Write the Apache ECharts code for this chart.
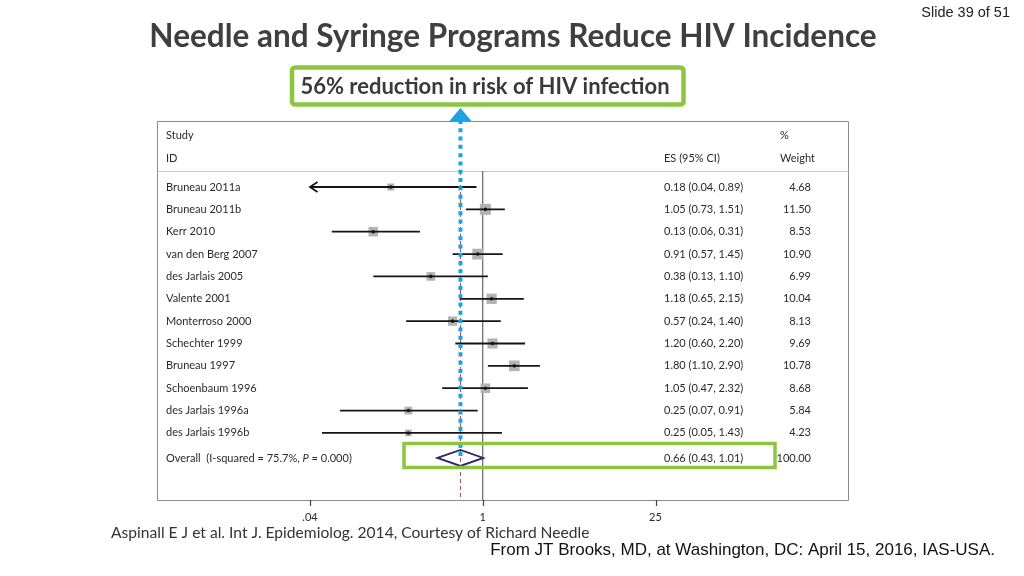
<!DOCTYPE html>
<html><head><meta charset="utf-8">
<script src="https://cdn.jsdelivr.net/npm/echarts@6/dist/echarts.min.js"></script>
<style>html,body{margin:0;padding:0;background:#fff}#c{width:1024px;height:576px}</style>
</head><body><div id="c"></div>
<script>
// ---- data ----
const studies = ['Bruneau 2011a','Bruneau 2011b','Kerr 2010','van den Berg 2007','des Jarlais 2005','Valente 2001','Monterroso 2000','Schechter 1999','Bruneau 1997','Schoenbaum 1996','des Jarlais 1996a','des Jarlais 1996b'];
const es = [0.18,1.05,0.13,0.91,0.38,1.18,0.57,1.20,1.80,1.05,0.25,0.25];
const ciLow = [0.04,0.73,0.06,0.57,0.13,0.65,0.24,0.60,1.10,0.47,0.07,0.05];
const ciHigh = [0.89,1.51,0.31,1.45,1.10,2.15,1.40,2.20,2.90,2.32,0.91,1.43];
const weights = [4.68,11.50,8.53,10.90,6.99,10.04,8.13,9.69,10.78,8.68,5.84,4.23];
const overallName = 'Overall';
const overallStat = '(I-squared = 75.7%, P = 0.000)';
const overallES = 0.66, overallLow = 0.43, overallHigh = 1.01, overallWeight = 100.00;
const xTickValues = [0.04, 1, 25];
const xTickLabels = ['.04', '1', '25'];

// ---- layout helpers ----
const fmt2 = v => v.toFixed(2);
const rows = studies.map((_, i) => i);
const overallRow = studies.length + 0.12;
const allRows = rows.concat([overallRow]);
const esText = es.map((v, i) => `${fmt2(v)} (${fmt2(ciLow[i])}, ${fmt2(ciHigh[i])})`)
  .concat([`${fmt2(overallES)} (${fmt2(overallLow)}, ${fmt2(overallHigh)})`]);
const wText = weights.map(fmt2).concat([fmt2(overallWeight)]);
const rowIndex = v => allRows.findIndex(r => Math.abs(r - v) < 1e-6);
const X_MIN = xTickValues[0], X_MAX = xTickValues[xTickValues.length - 1];
const FONT = 'Lato, "Open Sans", sans-serif';
const TXT = '#2a2a2a';
const FS = 11;

const studyData = studies.map((s, i) => [es[i], ciLow[i], ciHigh[i], weights[i], rows[i]]);

function yAxisBase(pos, labelOpt, fmt) {
  return {
    type: 'value', inverse: true, min: -0.715, max: studies.length + 2, position: pos,
    axisLine: { show: false }, axisTick: { show: false }, splitLine: { show: false },
    axisLabel: Object.assign({ customValues: allRows, fontFamily: FONT, fontSize: FS, color: TXT,
      formatter: fmt }, labelOpt)
  };
}

const chart = echarts.init(document.getElementById('c'), null, { renderer: 'canvas' });
chart.setOption({
  animation: false,
  backgroundColor: '#fff',
  grid: { left: 310, right: 368.5, top: 171, bottom: 76 },
  xAxis: {
    type: 'log', logBase: 25, min: X_MIN, max: X_MAX, splitNumber: 2,
    axisLine: { show: false, onZero: false },
    axisTick: { show: false },
    splitLine: { show: false },
    axisLabel: { fontFamily: FONT, fontSize: 11, color: TXT, margin: 12,
      formatter: v => { const k = xTickValues.findIndex(t => Math.abs(t - v) / t < 1e-6); return k >= 0 ? xTickLabels[k] : ''; } }
  },
  yAxis: [
    yAxisBase('left', { align: 'left', margin: 144,
      rich: { it: { fontStyle: 'italic', fontFamily: FONT, fontSize: FS, color: TXT } } },
      v => { const k = rowIndex(v); if (k < 0) return ''; if (k < studies.length) return studies[k];
        return overallName + '  ' + overallStat.replace('P =', '{it|P} ='); }),
    yAxisBase('right', { align: 'left', margin: 8.5 }, v => { const k = rowIndex(v); return k < 0 ? '' : esText[k]; }),
    yAxisBase('right', { align: 'right', margin: 155.5 }, v => { const k = rowIndex(v); return k < 0 ? '' : wText[k]; })
  ],
  graphic: [
    { type: 'rect', shape: { x: 157.5, y: 121.5, width: 691, height: 379 }, style: { fill: 'none', stroke: '#8a8a8a', lineWidth: 1 }, z: 1 },
    { type: 'line', shape: { x1: 157.5, y1: 171.5, x2: 848.5, y2: 171.5 }, style: { stroke: '#c8c8c8', lineWidth: 1 }, z: 1 },
    { type: 'text', x: 166, y: 135, style: { text: 'Study', font: `${FS}px ${FONT}`, fill: TXT, textVerticalAlign: 'middle' } },
    { type: 'text', x: 166, y: 158, style: { text: 'ID', font: `${FS}px ${FONT}`, fill: TXT, textVerticalAlign: 'middle' } },
    { type: 'text', x: 664, y: 158, style: { text: 'ES (95% CI)', font: `${FS}px ${FONT}`, fill: TXT, textVerticalAlign: 'middle' } },
    { type: 'text', x: 780, y: 135, style: { text: '%', font: `${FS}px ${FONT}`, fill: TXT, textVerticalAlign: 'middle' } },
    { type: 'text', x: 780, y: 158, style: { text: 'Weight', font: `${FS}px ${FONT}`, fill: TXT, textVerticalAlign: 'middle' } },
    // title
    { type: 'text', x: 513, y: 37, style: { text: 'Needle and Syringe Programs Reduce HIV Incidence', font: `bold 31.5px ${FONT}`, fill: '#3f3f3f', textAlign: 'center', textVerticalAlign: 'middle' } },
    { type: 'text', x: 1010, y: 13, style: { text: 'Slide 39 of 51', font: '14.5px "Liberation Sans Narrow", "Liberation Sans", sans-serif', fill: '#222', textAlign: 'right', textVerticalAlign: 'middle' } },
    // green callout
    { type: 'rect', shape: { x: 292, y: 67.5, width: 391.5, height: 37, r: 3 }, style: { fill: '#fff', stroke: '#8cc63f', lineWidth: 4.5 }, z: 5 },
    { type: 'text', x: 485, y: 87, style: { text: '56% reduction in risk of HIV infection', font: `bold 22px ${FONT}`, fill: '#3a3a3a', textAlign: 'center', textVerticalAlign: 'middle' }, z: 6 },
    // green box around overall row
    { type: 'rect', shape: { x: 404, y: 443.5, width: 371, height: 24 }, style: { fill: 'none', stroke: '#8cc63f', lineWidth: 3.5 }, z: 20 },
    // footnotes
    { type: 'text', x: 111, y: 533, style: { text: 'Aspinall E J et al. Int J. Epidemiolog. 2014, Courtesy of Richard Needle', font: `15.6px ${FONT}`, fill: '#333', textVerticalAlign: 'middle' } },
    { type: 'text', x: 995, y: 550, style: { text: 'From JT Brooks, MD, at Washington, DC: April 15, 2016, IAS-USA.', font: '17px "Liberation Sans", Arial, sans-serif', fill: '#111', textAlign: 'right', textVerticalAlign: 'middle' } }
  ],
  series: [
    { // reference lines: null line (solid), overall estimate (dashed), x-axis tick marks
      type: 'custom', z: 2, clip: false,
      data: [[1, 0], [overallES, 1]].concat(xTickValues.map(v => [v, 2])),
      renderItem(params, api) {
        const cs = params.coordSys;
        const x = api.coord([api.value(0), 0])[0];
        const kind = api.value(1);
        if (kind === 2) {
          const xt = Math.round(x) + 0.5, y0 = cs.y + cs.height;
          return { type: 'line', shape: { x1: xt, y1: y0, x2: xt, y2: y0 + 6 }, style: { stroke: '#444', lineWidth: 1.2 } };
        }
        const dashed = kind === 1;
        return { type: 'line', shape: { x1: x, y1: cs.y, x2: x, y2: cs.y + cs.height },
          style: { stroke: dashed ? '#a04a5e' : '#444', lineWidth: 1, lineDash: dashed ? [4, 3] : null } };
      }
    },
    { // study estimates
      type: 'custom', z: 3, data: studyData,
      renderItem(params, api) {
        const y = api.value(4), w = api.value(3);
        const pE = api.coord([api.value(0), y]);
        const lo = api.value(1), hi = api.value(2);
        const pL = api.coord([Math.max(lo, X_MIN), y]);
        const pH = api.coord([Math.min(hi, X_MAX), y]);
        const side = 3.25 * Math.sqrt(w);
        const ch = [
          { type: 'rect', shape: { x: pE[0] - side / 2, y: pE[1] - side / 2, width: side, height: side }, style: { fill: '#b3b3b3' } },
          { type: 'line', shape: { x1: pL[0], y1: pL[1], x2: pH[0], y2: pH[1] }, style: { stroke: '#151515', lineWidth: 1.8 } },
          { type: 'circle', shape: { cx: pE[0], cy: pE[1], r: 1.8 }, style: { fill: '#151515' } }
        ];
        if (lo <= X_MIN) ch.push({ type: 'polyline', shape: { points: [[pL[0] + 7.5, pL[1] - 5], [pL[0], pL[1]], [pL[0] + 7.5, pL[1] + 5]] }, style: { stroke: '#151515', lineWidth: 1.8, fill: 'none' } });
        if (hi >= X_MAX) ch.push({ type: 'polyline', shape: { points: [[pH[0] - 7.5, pH[1] - 5], [pH[0], pH[1]], [pH[0] - 7.5, pH[1] + 5]] }, style: { stroke: '#151515', lineWidth: 1.8, fill: 'none' } });
        return { type: 'group', children: ch };
      }
    },
    { // overall diamond + blue arrow
      type: 'custom', z: 4, data: [[overallES, overallLow, overallHigh, overallRow]],
      renderItem(params, api) {
        const cs = params.coordSys;
        const y = api.value(3);
        const pE = api.coord([api.value(0), y]);
        const pL = api.coord([api.value(1), y]);
        const pH = api.coord([api.value(2), y]);
        const hh = 8;
        const top = cs.y - 50;
        return { type: 'group', children: [
          { type: 'polygon', shape: { points: [[pL[0], pL[1]], [pE[0], pE[1] - hh], [pH[0], pH[1]], [pE[0], pE[1] + hh]] }, style: { fill: 'none', stroke: '#2a2766', lineWidth: 1.8 } },
          { type: 'line', shape: { x1: pE[0], y1: pE[1] - 2, x2: pE[0], y2: top }, style: { stroke: '#1aa3e0', lineWidth: 4, lineDash: [4, 4.3] } },
          { type: 'polygon', shape: { points: [[pE[0] - 11, top], [pE[0] + 11, top], [pE[0], top - 13]] }, style: { fill: '#1aa3e0' } }
        ] };
      }
    }
  ]
});
</script></body></html>
